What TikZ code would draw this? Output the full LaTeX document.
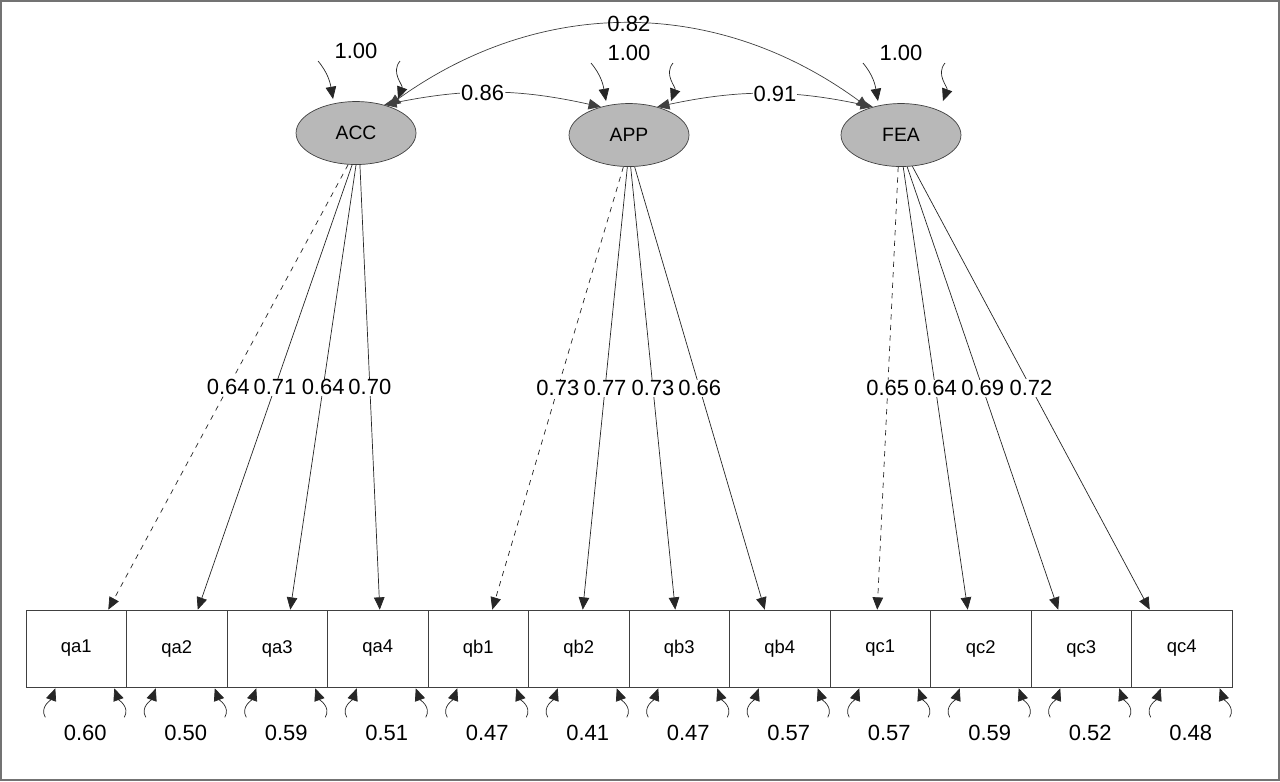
\documentclass[tikz,border=0pt]{standalone}
\usepackage{fontspec}
\setmainfont{Liberation Sans}
\usetikzlibrary{arrows.meta,shapes.geometric,calc}
\tikzset{
    latent/.style = {ellipse, draw=black!75, fill=black!28, minimum width=2.4cm, minimum height=1.26cm, inner sep=0pt, font=\fontsize{11}{12}\selectfont},
    item/.style = {rectangle, draw=black!75, minimum width=2.01cm, minimum height=1.54cm, inner sep=0pt, font=\fontsize{10.5}{12}\selectfont},
    lbl/.style = {fill=white, text=black, inner sep=0.5pt, font=\fontsize{12.5}{14}\selectfont},
    tip/.style = {-{Triangle[length=7pt,width=6pt]}, black!85},
    dtip/.style = {{Triangle[length=7pt,width=6pt]}-{Triangle[length=7pt,width=6pt]}, black!75}
}
\begin{document}
\begin{tikzpicture}[x=0.02cm, y=0.02cm]
\draw[black!55, line width=1.2pt] (1,1) rectangle (1279,780);
\useasboundingbox (0,0) rectangle (1280,781);

% latent factors
\node[latent] (ACC) at (356,648) {ACC};
\node[latent] (APP) at (629,646) {APP};
\node[latent] (FEA) at (901,646) {FEA};

% indicators
\foreach \n [count=\i] in {qa1,qa2,qa3,qa4,qb1,qb2,qb3,qb4,qc1,qc2,qc3,qc4}
    \node[item] (\n) at ({26+100.5*(\i-0.5)},132.5) {\n};

% factor variances
\foreach \f in {ACC,APP,FEA}{
    \draw[tip] ($(\f)+(-38,72)$) to[out=-50,in=100] ($(\f)+(-23,34)$);
    \draw[tip] ($(\f)+(44,72)$) to[out=-130,in=70] ($(\f)+(42,34)$);
    \node[lbl, fill=none] at ($(\f)+(0,82)$) {1.00};
}

% covariances
\draw[dtip] (ACC.40) to[bend left=36] node[lbl, fill=none]{0.82} (FEA.140);
\draw[dtip] (ACC.45) to[bend left=12] node[lbl, pos=0.45]{0.86} (APP.135);
\draw[dtip] (APP.45) to[bend left=12] node[lbl, pos=0.55]{0.91} (FEA.135);

% loadings
\foreach \f/\p/\sa/\sb/\sc/\sd/\oa/\ob/\oc/\od/\la/\lb/\lc/\ld in {
    ACC/qa/-104/-97/-90/-83/32/21/13/2/0.64/0.71/0.64/0.70,
    APP/qb/-100/-93/-87/-80/14/4/-4/-15/0.73/0.77/0.73/0.66,
    FEA/qc/-95/-86/-79/-70/-3/-13/-23/-32/0.65/0.64/0.69/0.72}{
    \draw[tip, dashed] (\f.\sa) -- node[lbl]{\la} ($(\p1.north)+(\oa,0)$);
    \draw[tip] (\f.\sb) -- node[lbl]{\lb} ($(\p2.north)+(\ob,0)$);
    \draw[tip] (\f.\sc) -- node[lbl]{\lc} ($(\p3.north)+(\oc,0)$);
    \draw[tip] (\f.\sd) -- node[lbl]{\ld} ($(\p4.north)+(\od,0)$);
}

% residual variances
\foreach \n/\v in {qa1/0.60,qa2/0.50,qa3/0.59,qa4/0.51,qb1/0.47,qb2/0.41,qb3/0.47,qb4/0.57,qc1/0.57,qc2/0.59,qc3/0.52,qc4/0.48}{
    \draw[tip] ($(\n.south)+(-31,-30)$) to[out=120,in=-110] ($(\n.south)+(-21,-1)$);
    \draw[tip] ($(\n.south)+(48,-30)$) to[out=60,in=-70] ($(\n.south)+(38,-1)$);
    \node[lbl, fill=none] at ($(\n.south)+(9,-46)$) {\v};
}
\end{tikzpicture}
\end{document}
